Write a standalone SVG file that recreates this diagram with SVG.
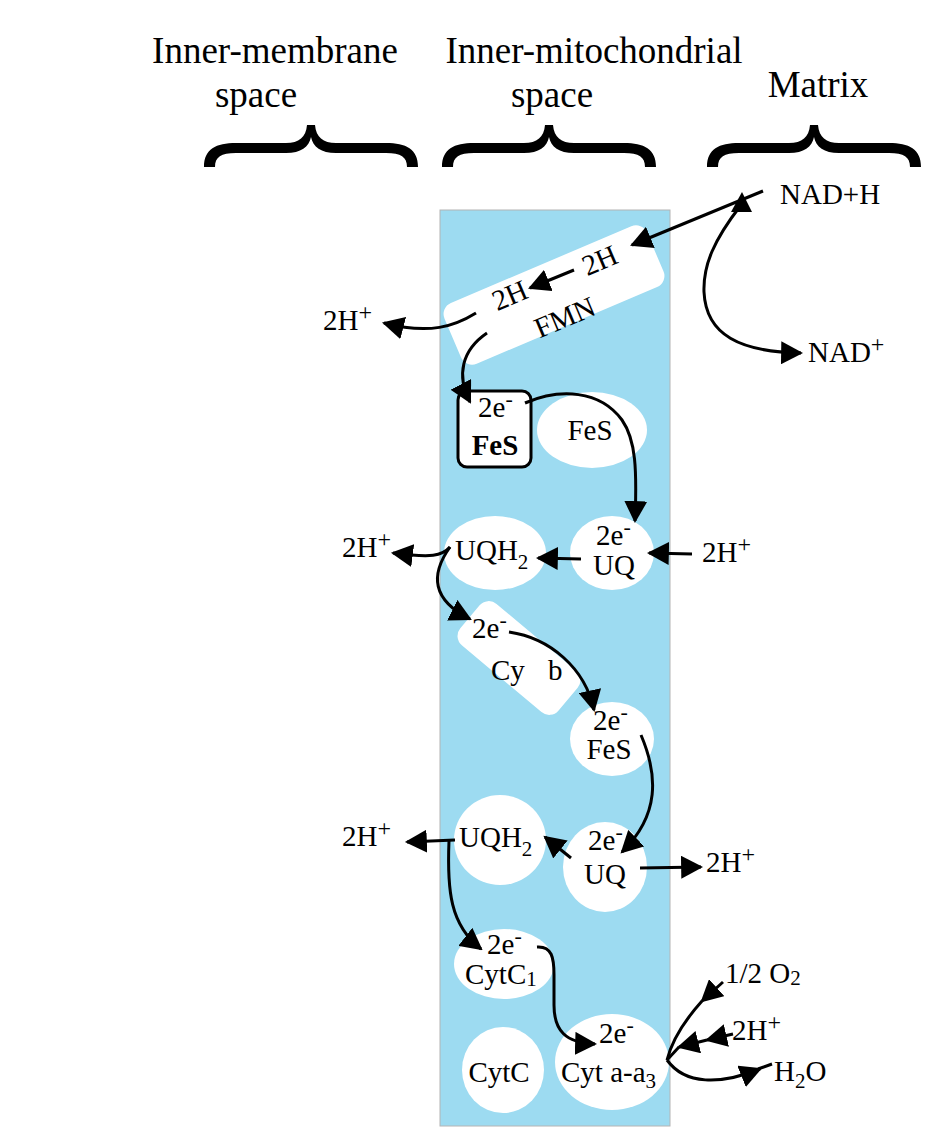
<svg xmlns="http://www.w3.org/2000/svg" width="946" height="1128" viewBox="0 0 946 1128">
<style>
text{font-family:"Liberation Serif","Times New Roman",serif;fill:#000}
.hd{font-size:37px}
.lb{font-size:29px}
.sup{font-size:24px}
.sm{font-size:22px}
.sub{font-size:21px}
.c{fill:none;stroke:#000;stroke-width:3}
.a{marker-end:url(#ah)}
.wn{fill:#fff}
</style>
<defs>
<marker id="ah" viewBox="0 0 21 22" refX="19" refY="11" markerWidth="22" markerHeight="23" markerUnits="userSpaceOnUse" orient="auto"><path d="M0,0 L21,11 L0,22 z" fill="#000"/></marker>
<path id="brace" d="M-107,0 C-107,-18 -95,-24 -75,-24 L-25,-24 C-12,-24 -5,-30 -4,-42 L4,-42 C5,-30 12,-24 25,-24 L75,-24 C95,-24 107,-18 107,0 L96,0 C96,-10 90,-14 75,-14 L25,-14 C10,-14 2,-20 0,-30 C-2,-20 -10,-14 -25,-14 L-75,-14 C-90,-14 -96,-10 -96,0 Z" fill="#000"/>
</defs>
<rect width="946" height="1128" fill="#fff"/>

<g id="headers">
<text class="hd" x="275" y="63" text-anchor="middle">Inner-membrane</text>
<text class="hd" x="256" y="107" text-anchor="middle">space</text>
<text class="hd" x="594" y="63" text-anchor="middle">Inner-mitochondrial</text>
<text class="hd" x="552" y="107" text-anchor="middle">space</text>
<text class="hd" x="818" y="97" text-anchor="middle">Matrix</text>
<use href="#brace" x="311" y="167"/>
<use href="#brace" x="549" y="167"/>
<use href="#brace" x="814" y="167"/>
</g>

<g id="membrane">
<rect x="440" y="210" width="230" height="916" fill="#9DDBF1" stroke="#b4b4b4" stroke-width="1"/>
</g>

<g id="fmn">
<rect class="wn" x="444" y="262" width="220" height="66" rx="12" transform="rotate(-23 554 295)"/>
<text class="lb" x="600" y="270" text-anchor="middle" transform="rotate(-23 600 261)">2H</text>
<text class="lb" x="510" y="305" text-anchor="middle" transform="rotate(-23 510 296)">2H</text>
<text class="lb" x="565" y="327" text-anchor="middle" transform="rotate(-23 565 318)">FMN</text>
</g>

<g id="fes-box">
<rect x="458" y="391" width="73" height="76" rx="9" fill="#fff" stroke="#000" stroke-width="3"/>
<text class="lb" x="478" y="417">2e<tspan class="sm" dy="-11">-</tspan></text>
<text class="lb" x="495" y="455" text-anchor="middle" font-weight="bold">FeS</text>
</g>

<g id="fes1">
<ellipse class="wn" cx="592" cy="430" rx="55" ry="38"/>
<text class="lb" x="590" y="440" text-anchor="middle">FeS</text>
</g>

<g id="uq1">
<ellipse class="wn" cx="612" cy="553" rx="42" ry="37"/>
<text class="lb" x="596" y="545">2e<tspan class="sm" dy="-11">-</tspan></text>
<text class="lb" x="614" y="575" text-anchor="middle">UQ</text>
</g>

<g id="uqh2-1">
<ellipse class="wn" cx="495" cy="553" rx="51" ry="37"/>
<text class="lb" x="455" y="560">UQH<tspan class="sub" dy="9">2</tspan></text>
</g>

<g id="cytb">
<rect class="wn" x="455" y="631" width="128" height="54" rx="12" transform="rotate(40 519 658)"/>
<text class="lb" x="472" y="638">2e<tspan class="sm" dy="-11">-</tspan></text>
<text class="lb" x="491" y="680">Cy</text>
<text class="lb" x="548" y="680">b</text>
</g>

<g id="fes2">
<ellipse class="wn" cx="612" cy="739" rx="42" ry="37"/>
<text class="lb" x="593" y="730">2e<tspan class="sm" dy="-11">-</tspan></text>
<text class="lb" x="609" y="759" text-anchor="middle">FeS</text>
</g>

<g id="uqh2-2">
<ellipse class="wn" cx="500" cy="840" rx="46" ry="45"/>
<text class="lb" x="459" y="847">UQH<tspan class="sub" dy="9">2</tspan></text>
</g>

<g id="uq2">
<ellipse class="wn" cx="605" cy="867" rx="42" ry="45"/>
<text class="lb" x="588" y="850">2e<tspan class="sm" dy="-11">-</tspan></text>
<text class="lb" x="605" y="884" text-anchor="middle">UQ</text>
</g>

<g id="cytc1">
<ellipse class="wn" cx="504" cy="964" rx="50" ry="35"/>
<text class="lb" x="487" y="954">2e<tspan class="sm" dy="-11">-</tspan></text>
<text class="lb" x="465" y="984">CytC<tspan class="sub" font-size="20" dy="2">1</tspan></text>
</g>

<g id="cytc">
<ellipse class="wn" cx="503" cy="1070" rx="41" ry="43"/>
<text class="lb" x="499" y="1082" text-anchor="middle">CytC</text>
</g>

<g id="cytaa3">
<ellipse class="wn" cx="612" cy="1062" rx="57" ry="48"/>
<text class="lb" x="599" y="1043">2e<tspan class="sm" dy="-11">-</tspan></text>
<text class="lb" x="561" y="1082">Cyt a-a<tspan class="sub" dy="6">3</tspan></text>
</g>

<g id="labels">
<text class="lb" x="780" y="204">NAD+H</text>
<text class="lb" x="808" y="362">NAD<tspan class="sup" dy="-10">+</tspan></text>
<text class="lb" x="323" y="330">2H<tspan class="sup" dy="-10">+</tspan></text>
<text class="lb" x="342" y="557">2H<tspan class="sup" dy="-10">+</tspan></text>
<text class="lb" x="702" y="562">2H<tspan class="sup" dy="-10">+</tspan></text>
<text class="lb" x="342" y="846">2H<tspan class="sup" dy="-10">+</tspan></text>
<text class="lb" x="706" y="872">2H<tspan class="sup" dy="-10">+</tspan></text>
<text class="lb" x="725" y="983">1/2 O<tspan class="sub" dy="2">2</tspan></text>
<text class="lb" x="732" y="1040">2H<tspan class="sup" dy="-10">+</tspan></text>
<text class="lb" x="774" y="1081">H<tspan class="sub" dy="7">2</tspan><tspan dy="-7">O</tspan></text>
</g>

<g id="connectors">
<path class="c a" d="M763,191 L632,245"/>
<path class="c a" d="M741,205 C714,240 703,265 704,292 C706,335 740,352 801,353"/>
<polygon points="742,192 731,212 752,212" fill="#000"/>
<path class="c a" d="M574,270 L530,288"/>
<path class="c a" d="M476,313 C455,326 430,335 384,323"/>
<path class="c a" d="M487,333 C462,350 456,375 470,402"/>
<path class="c a" d="M525,403 C560,388 600,390 622,420 C636,440 637,470 635,521"/>
<path class="c a" d="M581,559 L538,558"/>
<path class="c a" d="M692,554 L649,553"/>
<path class="c a" d="M450,547 C442,556 432,558 393,553"/>
<path class="c a" d="M450,547 C430,575 432,600 470,619"/>
<path class="c a" d="M509,632 C550,638 585,668 594,710"/>
<path class="c a" d="M641,735 C658,775 660,815 622,852"/>
<path class="c a" d="M571,858 L545,837"/>
<path class="c a" d="M640,868 L701,867"/>
<path class="c a" d="M455,840 L407,842"/>
<path class="c a" d="M449,841 C447,890 450,925 481,949"/>
<path class="c a" d="M537,947 C552,946 554,958 554,975 L554,1005 C554,1030 565,1043 595,1044"/>
<path class="c a" d="M723,982 L702,1001"/>
<path class="c" d="M702,1001 C685,1020 672,1040 667,1060"/>
<path class="c a" d="M733,1034 L707,1040"/>
<path class="c a" d="M707,1040 L679,1047"/>
<path class="c" d="M679,1047 L667,1060"/>
<path class="c a" d="M667,1060 C685,1085 720,1085 760,1069"/>
<path class="c" d="M758,1069 L772,1064"/>
</g>
</svg>
